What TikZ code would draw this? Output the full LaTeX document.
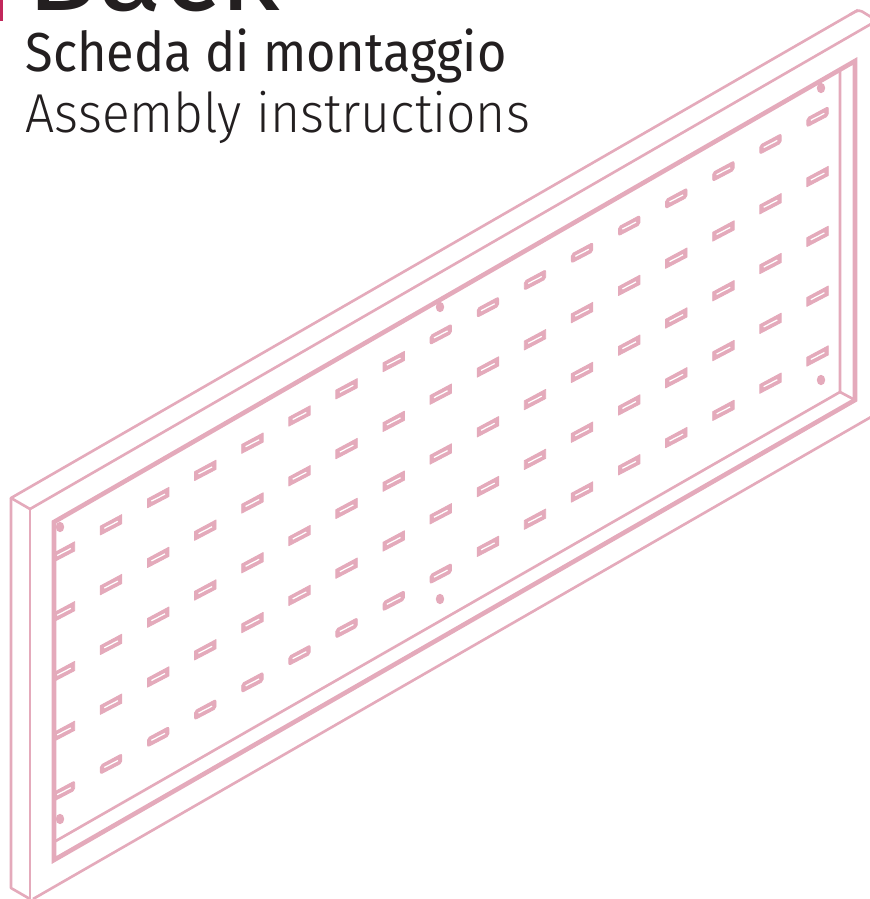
\documentclass[tikz,border=0pt]{standalone}
\usepackage{fontspec}
\setmainfont{Fira Sans}
\newfontfamily\lightfont[FakeStretch=0.94]{Fira Sans Light}
\newfontfamily\bookfont[FakeStretch=0.92]{Fira Sans}
\newfontfamily\titlefont{Fira Sans}
\definecolor{framepink}{HTML}{E4AABB}
\definecolor{markred}{HTML}{C2275B}
\definecolor{inkblack}{HTML}{231F20}
\tikzset{
	thinline/.style={draw=framepink, line width=0.75pt, line join=round},
	thickline/.style={draw=framepink, line width=1.3pt, line join=miter},
	heading/.style={anchor=base west, inner sep=0pt, text=inkblack}
}
\begin{document}
\begin{tikzpicture}[x=0.01cm, y=-0.01cm]

	\useasboundingbox (0,0) rectangle (870,899);
	\clip (0,0) rectangle (870,899);

	\fill[markred] (0,-1) rectangle (3,21);

	\node[heading, font=\titlefont\fontsize{33.6}{34}\selectfont] (back) at (26,10) {Back};
	\node[heading, font=\bookfont\fontsize{15.6}{16}\selectfont] (scheda) at (25,71) {Scheda di montaggio};
	\node[heading, font=\lightfont\fontsize{15.6}{16}\selectfont] (assembly) at (25,132) {Assembly instructions};

	\draw[thinline] (30,509) -- (11,498) -- (858,10);
	\draw[thinline, rounded corners=1pt] (850,14.6) -- (859,9.6) -- (871,17);
	\draw[thinline] (11,498) -- (11,888) -- (30,899);
	\draw[thinline] (30,509) -- (30,900);
	\draw[thinline] (30,509) -- (871,24);
	\draw[thinline] (33,899) -- (871,417);

	\draw[thickline] (54,522) -- (54,860) -- (855,400) -- (855,61) -- cycle;
	\draw[thinline] (840,70) -- (840,392) -- (54,842);
	\draw[thinline] (840,392) -- (855,400);

	\begin{scope}
		\clip (54,0) rectangle (870,899);
		\foreach \col in {0,...,16} {
			\foreach \row in {0,...,4} {
				\pgfmathsetmacro{\slotx}{64+47.1*\col}
				\pgfmathsetmacro{\sloty}{552-27.2*\col+59.8*\row}
				\pgfmathsetmacro{\slotround}{(\row==0 && \col>=8) || (\row==4 && \col<=8) ? 2 : 0.1}
				\begin{scope}[shift={(\slotx,\sloty)}]
					\filldraw[framepink, line width=0.25pt, rounded corners=\slotround*0.01cm] (-10.7,1.3) -- (10.7,-10.2) -- (10.7,-1.1) -- (-10.7,10.1) -- cycle;
					\draw[white, line width=0.35pt] (-6.8,3.5) -- (6.8,-3.5);
				\end{scope}
			}
		}
	\end{scope}

	\foreach \holex/\holey in {60/527, 60/819, 440/307, 440/599, 821/88, 821/380} {
		\fill[framepink] (\holex,\holey) ellipse [x radius=4.2, y radius=5.2];
	}

\end{tikzpicture}
\end{document}
